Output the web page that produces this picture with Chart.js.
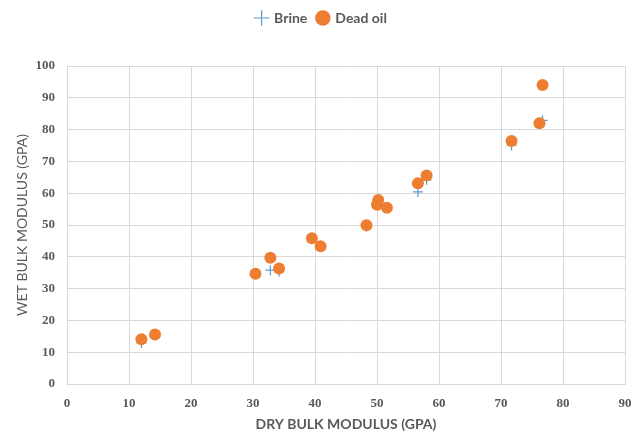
<!DOCTYPE html>
<html>
<head>
<meta charset="utf-8">
<script src="https://cdn.jsdelivr.net/npm/chart.js@4"></script>
<style>
  html, body { margin: 0; padding: 0; background: #fff; }
  #wrap { width: 638px; height: 433px; }
</style>
</head>
<body>
<div id="wrap"><canvas id="chart" width="638" height="433"></canvas></div>
<script>
// dry bulk modulus (x) shared by both series
const dryModulus = [12.0, 14.2, 30.4, 32.8, 34.2, 39.5, 40.9, 48.3, 50.2, 50.0, 51.6, 56.6, 58.0, 76.7, 76.2, 71.7];
// wet bulk modulus (y)
const brineWet   = [12.9, 15.5, 34.7, 35.8, 35.3, 45.8, 43.3, 49.5, 57.7, 56.3, 55.4, 60.4, 64.2, 82.9, 82.0, 75.0];
const deadOilWet = [14.1, 15.6, 34.7, 39.7, 36.3, 45.8, 43.3, 49.9, 57.9, 56.4, 55.4, 63.1, 65.6, 94.0, 82.0, 76.4];
const seriesNames = ['Brine', 'Dead oil'];
const xTicks = [0, 10, 20, 30, 40, 50, 60, 70, 80, 90];
const yTicks = [0, 10, 20, 30, 40, 50, 60, 70, 80, 90, 100];

const grey = '#595959';
const gridColor = '#d9d9d9';

function toPoints(ys) {
  return dryModulus.map((x, i) => ({ x: x, y: ys[i] }));
}

// extra room between the legend and the plot
const legendGap = {
  id: 'legendGap',
  beforeLayout(chart) {
    const lg = chart.legend;
    if (lg && !lg._gapPatched) {
      const fit = lg.fit;
      lg.fit = function () { fit.call(this); this.height += 31; };
      lg._gapPatched = true;
    }
  }
};

const ctx = document.getElementById('chart').getContext('2d');
const chart = new Chart(ctx, {
  type: 'scatter',
  data: {
    datasets: [
      {
        label: seriesNames[0],
        data: toPoints(brineWet),
        order: 1, // drawn under the circles
        pointStyle: 'cross',
        radius: 5,
        borderColor: '#5b9bd5',
        backgroundColor: '#5b9bd5',
        borderWidth: 1.2
      },
      {
        label: seriesNames[1],
        data: toPoints(deadOilWet),
        order: 0,
        pointStyle: 'circle',
        radius: 6,
        borderColor: '#ed7d31',
        backgroundColor: '#ed7d31',
        borderWidth: 0
      }
    ]
  },
  options: {
    responsive: false,
    animation: false,
    layout: { padding: { left: 9, right: 4, top: 1, bottom: 0 } },
    plugins: {
      tooltip: { enabled: false },
      legend: {
        position: 'top',
        labels: {
          usePointStyle: true,
          boxWidth: 11,
          boxHeight: 11,
          padding: 10,
          color: grey,
          font: { family: 'Lato', size: 14, weight: 'bold' },
          sort: (a, b) => a.datasetIndex - b.datasetIndex
        }
      }
    },
    scales: {
      x: {
        type: 'linear',
        min: 0,
        max: 90,
        afterBuildTicks: (scale) => { scale.ticks = xTicks.map(v => ({ value: v })); },
        afterFit: (scale) => { scale.height = 49; scale.paddingRight = 13; },
        grid: { color: gridColor, lineWidth: 1, drawTicks: false },
        border: { color: gridColor },
        ticks: {
          padding: 12,
          color: grey,
          font: { family: 'Liberation Serif', size: 13, weight: 'bold' }
        },
        title: {
          display: true,
          text: 'DRY BULK MODULUS (GPA)',
          color: grey,
          padding: { top: 2, bottom: 0 },
          font: { family: 'Lato', size: 14, weight: 'bold' }
        }
      },
      y: {
        type: 'linear',
        min: 0,
        max: 100,
        afterBuildTicks: (scale) => { scale.ticks = yTicks.map(v => ({ value: v })); },
        afterFit: (scale) => { scale.width = 58; },
        grid: { color: gridColor, lineWidth: 1, drawTicks: false },
        border: { color: gridColor },
        ticks: {
          padding: 12,
          color: grey,
          font: { family: 'Liberation Serif', size: 13, weight: 'bold' }
        },
        title: {
          display: true,
          text: 'WET BULK MODULUS (GPA)',
          color: grey,
          padding: { top: 5, bottom: 0 },
          font: { family: 'Lato', size: 14, weight: 'normal' }
        }
      }
    }
  },
  plugins: [legendGap]
});
</script>
</body>
</html>
